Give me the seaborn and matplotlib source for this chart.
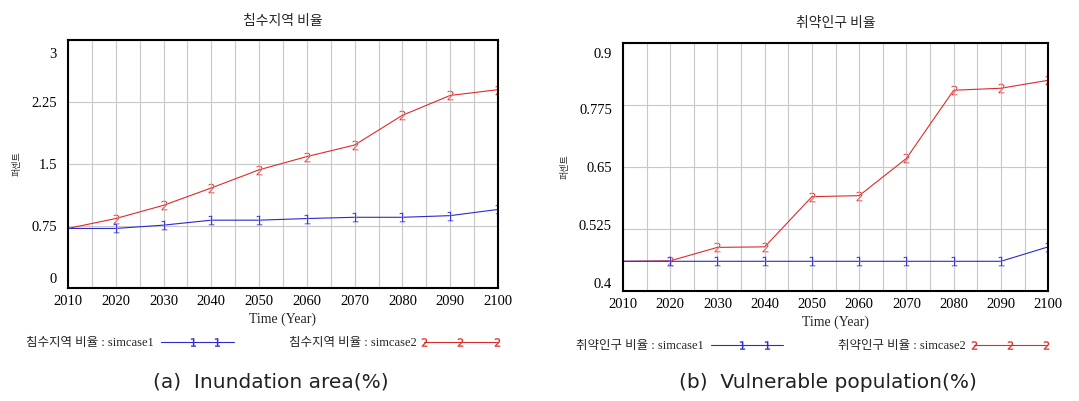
import matplotlib
matplotlib.use("Agg")
import numpy as np
import matplotlib.pyplot as plt
import matplotlib.transforms as mtrans
from matplotlib.lines import Line2D
from matplotlib.legend_handler import HandlerLine2D
from matplotlib.ticker import MultipleLocator
import seaborn as sns

sns.set_theme(style="white")
plt.rcParams['font.family'] = ['Liberation Serif', 'Noto Sans CJK KR']

# data
years = [2010, 2020, 2030, 2040, 2050, 2060, 2070, 2080, 2090, 2100]
inund_case1 = [0.72, 0.72, 0.76, 0.82, 0.82, 0.84, 0.855, 0.855, 0.875, 0.95]
inund_case2 = [0.72, 0.84, 1.00, 1.21, 1.43, 1.59, 1.73, 2.09, 2.33, 2.40]
vuln_case1 = [0.46, 0.46, 0.46, 0.46, 0.46, 0.46, 0.46, 0.46, 0.46, 0.489]
vuln_case2 = [0.46, 0.461, 0.488, 0.489, 0.59, 0.592, 0.667, 0.804, 0.808, 0.824]

inund_yticks = [0, 0.75, 1.5, 2.25, 3]
vuln_yticks = [0.4, 0.525, 0.65, 0.775, 0.9]

titles = ["침수지역 비율", "취약인구 비율"]
captions = ["(a)  Inundation area(%)", "(b)  Vulnerable population(%)"]

BLUE = "#2a2ad0"
RED = "#dd2b2b"
KR = ['Noto Sans CJK KR', 'DejaVu Sans']


class MarkedLine(HandlerLine2D):
    # legend line drawn full length, markers placed at given fractions
    def __init__(self, fracs, **kw):
        super().__init__(**kw)
        self.fracs = np.asarray(fracs)

    def create_artists(self, legend, orig_handle, xdescent, ydescent,
                       width, height, fontsize, trans):
        y = (height - ydescent) / 2
        line = Line2D([-xdescent, width - xdescent], [y, y])
        self.update_prop(line, orig_handle, legend)
        line.set_marker('None')
        marks = Line2D(self.fracs * width - xdescent, np.full(len(self.fracs), y))
        self.update_prop(marks, orig_handle, legend)
        marks.set_linestyle('None')
        line.set_transform(trans)
        marks.set_transform(trans)
        return [line, marks]


fig = plt.figure(figsize=(10.79, 4.01), dpi=100)
ax_a = fig.add_axes([0.063, 0.282, 0.3985, 0.618])
ax_b = fig.add_axes([0.5774, 0.274, 0.394, 0.620])


def draw(ax, c1, c2, yticks, ylab_shift, title, caption, cap_x, leg_x):
    sns.lineplot(x=years, y=c2, ax=ax, color=RED, linewidth=0.8,
                 marker='$2$', markersize=7, markeredgewidth=0.2,
                 markevery=list(range(1, len(years))))
    sns.lineplot(x=years, y=c1, ax=ax, color=BLUE, linewidth=0.8,
                 marker='$1$', markersize=7, markeredgewidth=0.2,
                 markevery=list(range(1, len(years))))
    ax.set_xlim(years[0], years[-1])
    ax.set_ylim(yticks[0], yticks[-1])
    ax.set_xticks(years)
    ax.xaxis.set_minor_locator(MultipleLocator(5))
    ax.set_yticks(yticks)
    ax.set_yticklabels([f"{v:g}" for v in yticks])
    ax.grid(True, which='both', axis='x', color='#c8c8c8', linewidth=0.8)
    ax.grid(True, which='major', axis='y', color='#c8c8c8', linewidth=0.8)
    ax.tick_params(axis='x', which='both', length=0, labelsize=10.5, colors='black', pad=5)
    ax.tick_params(axis='y', which='both', length=0, labelsize=10.5, colors='black', pad=8)
    # Vensim squeezes the end labels towards the middle
    for lab, dy in zip(ax.get_yticklabels(), ylab_shift):
        lab.set_transform(lab.get_transform() +
                          mtrans.ScaledTranslation(0, dy / 100, fig.dpi_scale_trans))
    for s in ax.spines.values():
        s.set_visible(True)
        s.set_color('black')
        s.set_linewidth(1.5)
    ax.set_title(title, family=KR, fontsize=10, pad=11)
    ax.set_xlabel("Time (Year)", fontsize=10, labelpad=3)
    ax.set_ylabel("퍼센트", family=KR, fontsize=6.5, labelpad=7)

    h1 = Line2D([], [], color=BLUE, linewidth=0.8, marker='$1$', markersize=6,
                markeredgewidth=0.2)
    h2 = Line2D([], [], color=RED, linewidth=0.8, marker='$2$', markersize=6,
                markeredgewidth=0.2)
    leg = ax.legend([h1, h2], [f"{title} : simcase1", f"{title} : simcase2"],
                    ncol=2, frameon=False, markerfirst=False, handlelength=5.8,
                    columnspacing=4.4, handletextpad=0.6, fontsize=9,
                    loc='center', bbox_to_anchor=(leg_x, -0.222),
                    handler_map={h1: MarkedLine([0.43, 0.77]),
                                 h2: MarkedLine([0.0, 0.5, 1.0])})
    for t in leg.get_texts():
        t.set_family(['Liberation Serif', 'Noto Sans CJK KR'])

    fig.text(cap_x, 0.047, caption, ha='center', va='center',
             fontsize=14.5, color='#222222', family=['DejaVu Sans'])


draw(ax_a, inund_case1, inund_case2, inund_yticks, [10, 0, 0, 0, -13],
     titles[0], captions[0], 0.251, 0.45)
draw(ax_b, vuln_case1, vuln_case2, vuln_yticks, [8, 4, 0, -4, -10],
     titles[1], captions[1], 0.767, 0.442)

fig.savefig("out.png", dpi=100)
